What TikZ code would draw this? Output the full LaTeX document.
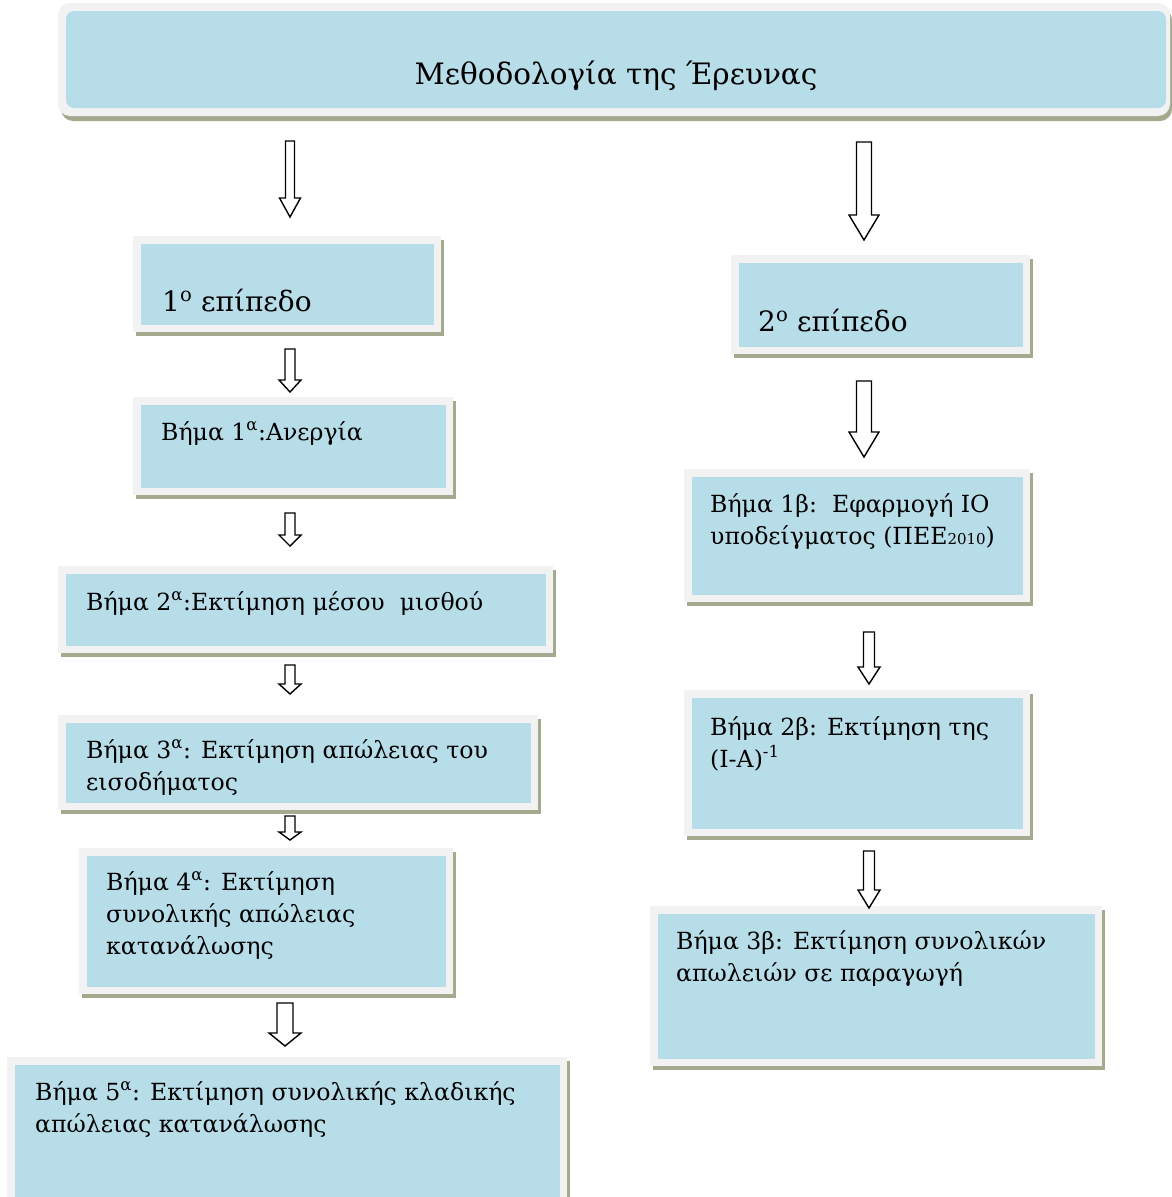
\documentclass[tikz,border=0pt]{standalone}
\usepackage{fontspec}
\setmainfont{DejaVu Serif}
\definecolor{boxblue}{HTML}{B7DDE8}
\definecolor{boxframe}{HTML}{F2F2F2}
\definecolor{boxshadow}{HTML}{A4AA8E}
\newcommand{\mkbox}[5]{%
  \fill[boxshadow] ({#2+3},{#3+4}) rectangle ({#4+3},{#5+4});
  \fill[boxframe] (#2,#3) rectangle (#4,#5);
  \node[bluebox, minimum width={(#4-#2-15)*1pt}, minimum height={(#5-#3-15)*1pt}]
    (#1) at ({(#2+#4)/2},{(#3+#5)/2}) {};
}
\newcommand{\barrow}[6]{% x, ytop, yhead, ytip, shaft half, head half
  \draw[blockarrow] ({#1-#5},#2) -- ({#1+#5},#2) -- ({#1+#5},#3) -- ({#1+#6},#3)
    -- (#1,#4) -- ({#1-#6},#3) -- ({#1-#5},#3) -- cycle;
}
\tikzset{
  bluebox/.style={fill=boxblue, inner sep=0pt, outer sep=0pt},
  steptext/.style={anchor=base west, align=left, inner sep=0pt,
    font=\fontsize{23.6}{32}\selectfont},
  leveltext/.style={anchor=base west, inner sep=0pt,
    font=\fontsize{28}{32}\selectfont},
  titletext/.style={anchor=base, inner sep=0pt,
    font=\fontsize{29.5}{34}\selectfont},
  blockarrow/.style={draw=black, line width=1.4pt, fill=white, line join=miter}
}
\newcommand{\supa}{\textsuperscript{α}}
\begin{document}
\begin{tikzpicture}[x=1pt, y=-1pt]
\useasboundingbox (0,0) rectangle (1172,1197);
\fill[white] (0,0) rectangle (1172,1197);

% title box (rounded)
\fill[boxshadow, rounded corners=12pt] (61,8) rectangle (1172,121);
\fill[boxframe, rounded corners=12pt] (58,3) rectangle (1170,116);
\fill[boxblue, rounded corners=8pt] (66,11) rectangle (1166,108);
\node[titletext] (title) at (616,84) {Μεθοδολογία της Έρευνας};

% left column
\mkbox{lvl1}{133}{236}{441}{332}
\node[leveltext] (tlvl1) at (162,311) {1\textsuperscript{ο} επίπεδο};

\mkbox{a1}{133}{397}{453}{495}
\node[steptext] (ta1) at (161,440) {Βήμα 1\supa:Ανεργία};

\mkbox{a2}{58}{566}{553}{653}
\node[steptext] (ta2) at (86,610) {Βήμα 2\supa:Εκτίμηση μέσου\ \ μισθού};

\mkbox{a3}{58}{715}{538}{810}
\node[steptext] (ta3) at (86,790) {Βήμα 3\supa: Εκτίμηση απώλειας του\\εισοδήματος};

\mkbox{a4}{79}{848}{453}{994}
\node[steptext] (ta4) at (106,954) {Βήμα 4\supa: Εκτίμηση\\συνολικής απώλειας\\κατανάλωσης};

\mkbox{a5}{7}{1057}{567}{1204}
\node[steptext] (ta5) at (35,1132) {Βήμα 5\supa: Εκτίμηση συνολικής κλαδικής\\απώλειας κατανάλωσης};

% right column
\mkbox{lvl2}{731}{255}{1030}{354}
\node[leveltext] (tlvl2) at (758,331) {2\textsuperscript{ο} επίπεδο};

\mkbox{b1}{684}{469}{1030}{602}
\node[steptext] (tb1) at (710,544) {Βήμα 1β:\ \ Εφαρμογή ΙΟ\\υποδείγματος (ΠΕΕ{\fontsize{15}{15}\selectfont 2010})};

\mkbox{b2}{684}{690}{1030}{836}
\node[steptext] (tb2) at (710,767) {Βήμα 2β: Εκτίμηση της\\(Ι-Α)\textsuperscript{-1}};

\mkbox{b3}{650}{906}{1102}{1066}
\node[steptext] (tb3) at (676,981) {Βήμα 3β: Εκτίμηση συνολικών\\απωλειών σε παραγωγή};

% block arrows
\barrow{290}{141}{198}{217}{4.5}{10.5}
\barrow{864}{142}{215}{240}{7.5}{15}
\barrow{290}{349}{380}{392}{5}{11}
\barrow{864}{381}{432}{457}{7.5}{15}
\barrow{290}{513}{535}{546}{5}{11}
\barrow{869}{632}{667}{684}{5.5}{11}
\barrow{290}{665}{684}{694}{5}{11}
\barrow{869}{851}{890}{908}{5.5}{11}
\barrow{290}{816}{832}{840}{5}{11}
\barrow{285}{1003}{1033}{1046}{8}{16}
\end{tikzpicture}
\end{document}
